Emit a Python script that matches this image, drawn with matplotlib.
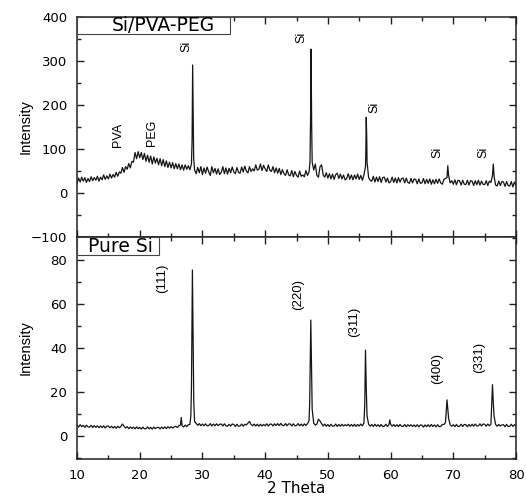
import numpy as np
import matplotlib
matplotlib.use('Agg')
import matplotlib.pyplot as plt
from matplotlib.patches import Rectangle
from matplotlib.ticker import MultipleLocator

plt.rcParams['font.family'] = ['DejaVu Sans']

# 2 theta sampling (0.25 deg steps), plus extra points at the reflections
two_theta = np.arange(10, 80.001, 0.25)

si_pva_peg = [
    22, 34, 25, 36,   # 10
    27, 35, 24, 33,   # 11
    26, 37, 28, 35,   # 12
    29, 38, 27, 36,   # 13
    30, 41, 31, 39,   # 14
    32, 43, 34, 42,   # 15
    36, 47, 38, 48,   # 16
    45, 58, 47, 60,   # 17
    54, 67, 57, 72,   # 18
    70, 92, 78, 94,   # 19
    80, 92, 76, 90,   # 20
    72, 86, 70, 84,   # 21
    66, 82, 68, 79,   # 22
    64, 78, 62, 76,   # 23
    60, 73, 58, 70,   # 24
    57, 69, 55, 67,   # 25
    55, 66, 53, 64,   # 26
    52, 64, 54, 62,   # 27
    53, 66, 210, 52,  # 28
    44, 58, 46, 60,   # 29
    42, 57, 45, 59,   # 30
    48, 40, 60, 46,   # 31
    56, 43, 55, 42,   # 32
    47, 60, 44, 57,   # 33
    43, 56, 46, 59,   # 34
    48, 44, 58, 47,   # 35
    45, 59, 48, 61,   # 36
    50, 46, 60, 49,   # 37
    55, 50, 64, 52,   # 38
    54, 66, 51, 63,   # 39
    55, 49, 64, 52,   # 40
    49, 60, 46, 57,   # 41
    45, 56, 42, 53,   # 42
    44, 40, 53, 41,   # 43
    39, 51, 37, 49,   # 44
    40, 36, 50, 38,   # 45
    41, 37, 51, 40,   # 46
    48, 180, 70, 52,  # 47
    66, 40, 36, 60,   # 48
    64, 41, 36, 46,   # 49
    34, 44, 32, 43,   # 50
    31, 42, 45, 33,   # 51
    43, 32, 41, 30,   # 52
    33, 44, 31, 41,   # 53
    30, 41, 32, 43,   # 54
    31, 40, 29, 41,   # 55
    60, 70, 35, 29,   # 56
    27, 38, 25, 36,   # 57
    26, 37, 24, 35,   # 58
    36, 25, 34, 23,   # 59
    26, 36, 24, 34,   # 60
    23, 35, 25, 33,   # 61
    34, 23, 34, 24,   # 62
    22, 33, 23, 32,   # 63
    31, 21, 32, 22,   # 64
    23, 33, 21, 31,   # 65
    22, 32, 20, 30,   # 66
    21, 31, 22, 32,   # 67
    23, 20, 31, 33,   # 68
    35, 40, 23, 28,   # 69
    20, 30, 19, 29,   # 70
    28, 18, 29, 20,   # 71
    19, 29, 18, 28,   # 72
    27, 17, 28, 19,   # 73
    29, 18, 27, 20,   # 74
    19, 28, 17, 27,   # 75
    24, 40, 38, 18,   # 76
    16, 27, 17, 26,   # 77
    25, 15, 26, 17,   # 78
    16, 26, 14, 25,   # 79
    17,               # 80
]
peak_theta_top = [28.35, 28.44, 28.6, 47.15, 47.32, 47.42, 56.05, 56.12, 56.2, 69.12, 76.38]
peak_int_top = [120, 291, 80, 70, 327, 150, 90, 172, 125, 62, 66]

pure_si = [
    4.9, 4.0, 5.1, 4.2,   # 10
    4.8, 3.9, 4.9, 4.1,   # 11
    4.0, 4.8, 3.8, 4.7,   # 12
    3.9, 4.6, 3.7, 4.5,   # 13
    3.8, 4.6, 3.6, 4.4,   # 14
    4.5, 3.7, 4.4, 3.6,   # 15
    4.3, 3.5, 4.4, 3.7,   # 16
    4.3, 5.4, 4.4, 3.6,   # 17
    4.2, 3.3, 4.1, 3.4,   # 18
    4.0, 3.2, 4.1, 3.3,   # 19
    3.9, 3.1, 4.0, 3.2,   # 20
    3.3, 4.1, 3.2, 3.9,   # 21
    3.1, 4.0, 3.3, 3.8,   # 22
    3.9, 3.2, 4.0, 3.3,   # 23
    4.1, 3.3, 4.2, 3.5,   # 24
    4.2, 3.6, 4.1, 4.4,   # 25
    3.8, 4.6, 5.0, 4.6,   # 26
    4.1, 4.9, 4.2, 5.1,   # 27
    5.2, 22.0, 48.0, 6.5, # 28
    5.7, 4.8, 5.6, 4.6,   # 29
    5.4, 4.6, 5.5, 4.6,   # 30
    4.7, 5.6, 4.5, 5.4,   # 31
    4.6, 5.5, 4.7, 5.3,   # 32
    5.4, 4.5, 5.5, 4.6,   # 33
    4.4, 5.3, 4.5, 5.4,   # 34
    5.2, 4.3, 5.3, 4.4,   # 35
    4.5, 5.4, 4.4, 5.3,   # 36
    5.0, 5.8, 6.6, 5.2,   # 37
    4.6, 5.4, 4.5, 5.3,   # 38
    4.4, 5.3, 4.5, 5.2,   # 39
    4.6, 5.5, 4.5, 5.3,   # 40
    5.4, 4.5, 5.5, 4.7,   # 41
    5.6, 4.7, 5.7, 4.8,   # 42
    4.7, 5.6, 4.6, 5.5,   # 43
    5.4, 4.5, 5.5, 4.6,   # 44
    4.7, 5.6, 4.6, 5.4,   # 45
    4.5, 5.5, 4.7, 5.6,   # 46
    7.0, 44.0, 12.0, 5.8, # 47
    4.9, 5.4, 7.6, 6.8,   # 48
    5.6, 4.5, 5.4, 4.4,   # 49
    5.2, 4.3, 5.3, 4.4,   # 50
    4.5, 5.4, 4.3, 5.2,   # 51
    4.4, 5.3, 4.5, 5.1,   # 52
    4.6, 5.3, 4.4, 5.2,   # 53
    4.4, 5.3, 4.3, 5.2,   # 54
    4.5, 5.4, 4.6, 5.8,   # 55
    39.0, 9.0, 5.3, 4.4,  # 56
    5.2, 4.3, 5.3, 4.4,   # 57
    5.1, 4.2, 5.2, 4.3,   # 58
    4.4, 5.3, 4.3, 5.2,   # 59
    5.3, 4.4, 5.2, 4.3,   # 60
    5.1, 4.2, 5.2, 4.4,   # 61
    4.3, 5.2, 4.2, 5.1,   # 62
    4.4, 5.1, 4.3, 5.0,   # 63
    4.2, 5.1, 4.1, 5.0,   # 64
    4.9, 4.0, 5.0, 4.2,   # 65
    5.1, 4.2, 5.2, 4.3,   # 66
    5.0, 4.1, 5.1, 4.2,   # 67
    4.3, 5.2, 5.2, 6.0,   # 68
    16.4, 8.0, 5.0, 4.4,  # 69
    5.1, 4.2, 5.2, 4.3,   # 70
    4.4, 5.3, 4.3, 5.2,   # 71
    5.1, 4.2, 5.2, 4.4,   # 72
    5.3, 4.4, 5.4, 4.5,   # 73
    4.6, 5.5, 4.5, 5.4,   # 74
    5.3, 4.4, 5.4, 4.6,   # 75
    5.3, 23.3, 9.0, 5.2,  # 76
    4.4, 5.2, 4.5, 5.0,   # 77
    5.1, 4.2, 5.2, 4.3,   # 78
    4.4, 5.3, 4.3, 5.1,   # 79
    4.5,                  # 80
]
peak_theta_si = [26.62, 28.15, 28.4, 28.62, 47.1, 47.28, 47.4, 55.88, 56.12, 59.88, 69.12, 76.4]
peak_int_si = [8.4, 9.0, 75.5, 15.0, 15.0, 52.7, 30.0, 14.0, 22.0, 7.3, 12.5, 14.0]

top_labels = ["PVA", "PEG", "Si", "Si", "Si", "Si", "Si"]
top_label_x = [16.5, 22.0, 27.4, 45.8, 57.5, 67.5, 74.8]
top_label_y = [105, 107, 321, 341, 181, 79, 79]

hkl_labels = ["(111)", "(220)", "(311)", "(400)", "(331)"]
hkl_x = [23.5, 45.2, 54.2, 67.5, 74.1]
hkl_y = [65, 57.3, 45, 23.6, 28.5]


def merge(theta, vals, ptheta, pvals):
    x = np.concatenate([theta, ptheta])
    y = np.concatenate([np.asarray(vals, float), pvals])
    order = np.argsort(x, kind='stable')
    return x[order], y[order]


def style_axis(ax, ymajor, yminor):
    ax.set_xlim(10, 80)
    ax.xaxis.set_major_locator(MultipleLocator(10))
    ax.xaxis.set_minor_locator(MultipleLocator(5))
    ax.yaxis.set_major_locator(MultipleLocator(ymajor))
    ax.yaxis.set_minor_locator(MultipleLocator(yminor))
    ax.tick_params(which='both', direction='in', top=True, right=True,
                   width=1.0, color='#222222')
    ax.tick_params(which='major', length=5, labelsize=9.5, pad=7)
    ax.tick_params(which='minor', length=3)
    for sp in ax.spines.values():
        sp.set_linewidth(1.1)
        sp.set_color('#222222')


def sample_box(ax, text, width, height, tx):
    ax.add_patch(Rectangle((0, 1 - height), width, height, transform=ax.transAxes,
                           facecolor='white', edgecolor='#444444', lw=0.8, zorder=5))
    ax.text(tx, 1 - height / 2, text, transform=ax.transAxes, ha='center',
            va='center', fontsize=13.5, zorder=6)


fig = plt.figure(figsize=(5.26, 4.97), dpi=100)
ax_top = fig.add_axes([0.1464, 0.5231, 0.8346, 0.4427])
ax_bot = fig.add_axes([0.1464, 0.0765, 0.8346, 0.4466])

xt, yt = merge(two_theta, si_pva_peg, peak_theta_top, peak_int_top)
ax_top.plot(xt, yt, color='#151515', lw=0.9)
ax_top.set_ylim(-100, 400)
style_axis(ax_top, 100, 50)
ax_top.tick_params(axis='x', labelbottom=False)
ax_top.set_ylabel('Intensity', family=['Liberation Sans'], fontsize=10.5)
ax_top.yaxis.set_label_coords(-0.10, 0.5)
sample_box(ax_top, 'Si/PVA-PEG', 0.3485, 0.077, 0.197)
for lab, x, y in zip(top_labels, top_label_x, top_label_y):
    ax_top.text(x, y, lab, rotation=90, ha='center', va='bottom',
                family=['Liberation Sans'], fontsize=9)

xb, yb = merge(two_theta, pure_si, peak_theta_si, peak_int_si)
ax_bot.plot(xb, yb, color='#151515', lw=0.9)
ax_bot.set_ylim(-10.5, 90.5)
style_axis(ax_bot, 20, 10)
ax_bot.set_ylabel('Intensity', family=['Liberation Sans'], fontsize=10.5)
ax_bot.yaxis.set_label_coords(-0.10, 0.5)
ax_bot.set_xlabel('2 Theta', fontsize=11)
ax_bot.xaxis.set_label_coords(0.5, -0.1)
sample_box(ax_bot, 'Pure Si', 0.187, 0.081, 0.099)
for lab, x, y in zip(hkl_labels, hkl_x, hkl_y):
    ax_bot.text(x, y, lab, rotation=90, ha='center', va='bottom',
                family=['Liberation Sans'], fontsize=9.5)

fig.savefig('out.png', dpi=100)
